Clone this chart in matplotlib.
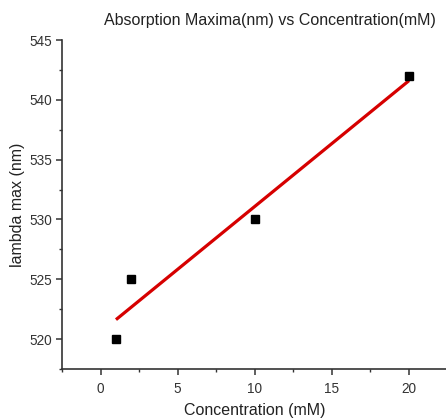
import numpy as np
import matplotlib

matplotlib.use("Agg")
import matplotlib.pyplot as plt  # noqa: E402
from matplotlib.ticker import MultipleLocator  # noqa: E402

plt.rcParams["font.family"] = ["Liberation Sans", "DejaVu Sans"]

conc = [1, 2, 10, 20]
lam_max = [520, 525, 530, 542]

# linear fit through the measured points (as in the original Origin plot)
slope, icpt = np.polyfit(conc, lam_max, 1)
fit_x = np.array([min(conc), max(conc)])
fit_y = slope * fit_x + icpt

fig = plt.figure(figsize=(4.46, 4.18), dpi=100)
ax = fig.add_axes((62 / 446, 49 / 418, 385.6 / 446, 329 / 418))

ax.plot(fit_x, fit_y, color="#d60000", lw=2.3, solid_capstyle="butt", zorder=2)
ax.plot(conc, lam_max, ls="none", marker="s", ms=5.2, color="black", zorder=3)

ax.set_xlim(-2.5, 22.5)
ax.set_ylim(517.5, 545)
ax.xaxis.set_major_locator(MultipleLocator(5))
ax.xaxis.set_minor_locator(MultipleLocator(2.5))
ax.yaxis.set_major_locator(MultipleLocator(5))
ax.yaxis.set_minor_locator(MultipleLocator(2.5))

for side in ("top", "right"):
    ax.spines[side].set_visible(False)
for side in ("left", "bottom"):
    ax.spines[side].set_linewidth(1.2)
    ax.spines[side].set_color("#333333")

ax.tick_params(which="major", direction="out", length=4, width=1.1,
               labelsize=9.8, pad=3, colors="#333333", labelcolor="#333333")
ax.tick_params(axis="x", which="major", pad=5.5)
ax.tick_params(which="minor", direction="out", length=2.5, width=1.0,
               colors="#333333")

ax.set_xlabel("Concentration (mM)", fontsize=11.5, labelpad=5, color="#222222")
ax.set_ylabel("lambda max (nm)", fontsize=11.5, labelpad=3, color="#222222")
fig.text(270 / 446, 1 - 20 / 418, "Absorption Maxima(nm) vs Concentration(mM)",
         ha="center", va="center", fontsize=11.5, color="#222222")

fig.savefig("out.png", dpi=100)
